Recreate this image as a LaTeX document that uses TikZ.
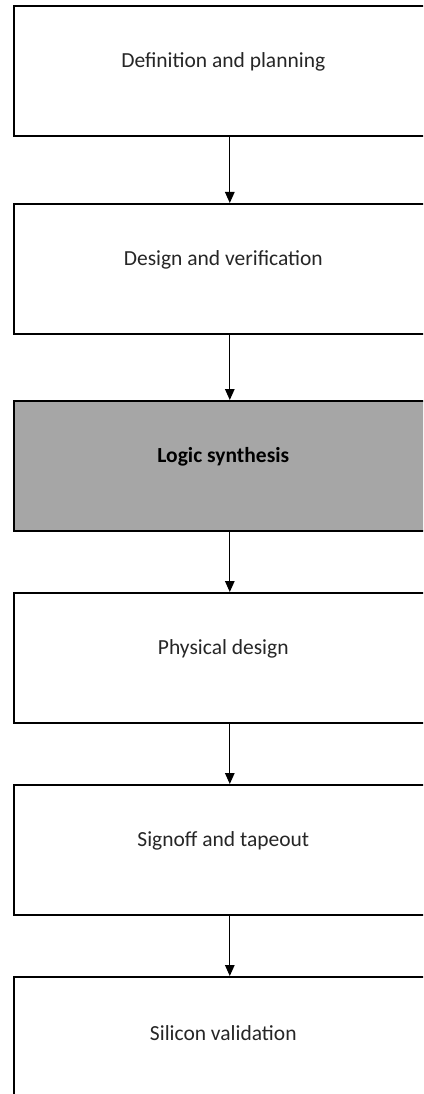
\documentclass[tikz,border=0pt]{standalone}
\usepackage{fontspec}
\setmainfont{Carlito}
\usetikzlibrary{arrows.meta}
\tikzset{
  stagebox/.style={draw=black, line width=1.6pt, fill=white, minimum width=419pt, minimum height=130pt, anchor=north west, inner sep=0pt},
  lastbox/.style={minimum height=140pt},
  hl/.style={fill=black!35},
  lbl/.style={text=black!85, inner sep=0pt},
  flow/.style={-{Triangle[length=11pt,width=9.5pt]}, line width=1.3pt}
}
\begin{document}
\begin{tikzpicture}[x=1pt,y=-1pt]
\fill[white] (0,0) rectangle (423,1094);
\clip (0,0) rectangle (423,1094);
\fontsize{21.5}{25}\selectfont
\node[stagebox] (b1) at (13,5) {};
\node[lbl] at ([yshift=-57pt]b1.north) {Definition and planning};
\node[stagebox] (b2) at (13,203) {};
\node[lbl] at ([yshift=-57pt]b2.north) {Design and verification};
\node[stagebox,hl] (b3) at (13,400) {};
\node[lbl,text=black] at ([yshift=-57pt]b3.north) {\bfseries Logic synthesis};
\node[stagebox] (b4) at (13,592) {};
\node[lbl] at ([yshift=-57pt]b4.north) {Physical design};
\node[stagebox] (b5) at (13,784) {};
\node[lbl] at ([yshift=-57pt]b5.north) {Signoff and tapeout};
\node[stagebox,lastbox] (b6) at (13,976) {};
\node[lbl] at ([yshift=-57pt]b6.north) {Silicon validation};
\draw[flow] ([xshift=6.5pt]b1.south) -- ([xshift=6.5pt]b2.north);
\draw[flow] ([xshift=6.5pt]b2.south) -- ([xshift=6.5pt]b3.north);
\draw[flow] ([xshift=6.5pt]b3.south) -- ([xshift=6.5pt]b4.north);
\draw[flow] ([xshift=6.5pt]b4.south) -- ([xshift=6.5pt]b5.north);
\draw[flow] ([xshift=6.5pt]b5.south) -- ([xshift=6.5pt]b6.north);
\end{tikzpicture}
\end{document}
